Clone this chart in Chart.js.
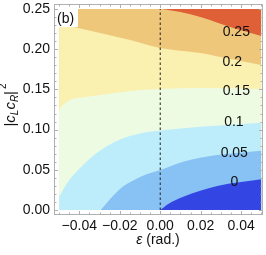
<!DOCTYPE html>
<html>
<head>
<meta charset="utf-8">
<script src="https://cdn.jsdelivr.net/npm/chart.js@4.4.0/dist/chart.umd.min.js"></script>
<style>
html,body{margin:0;padding:0;background:#fff;}
#wrap{width:266px;height:255px;}
</style>
</head>
<body>
<div id="wrap"><canvas id="myChart"></canvas></div>
<script>
// contour boundaries (epsilon, |cL cR|^2)
var lvl0X   = [0.0, 0.004, 0.0114, 0.0282, 0.05];
var lvl0Y   = [0.0, 0.0075, 0.0165, 0.0299, 0.0382];
var lvl05X  = [-0.0294, -0.0243, -0.0193, -0.0129, -0.0064, 0.0, 0.0114, 0.0282, 0.05];
var lvl05Y  = [0.0, 0.0149, 0.0274, 0.0373, 0.0448, 0.0498, 0.0601, 0.0684, 0.0738];
var lvl10X  = [-0.05, -0.046, -0.0391, -0.0327, -0.0262, -0.0193, -0.0129, -0.0064, 0.0, 0.0198, 0.05];
var lvl10Y  = [0.0162, 0.0336, 0.0535, 0.0684, 0.0796, 0.0883, 0.0933, 0.0970, 0.0989, 0.1036, 0.1086];
var lvl15X  = [-0.05, -0.0485, -0.0446, -0.0371, -0.0297, -0.0149, 0.0, 0.0198, 0.05];
var lvl15Y  = [0.1244, 0.1294, 0.1368, 0.1405, 0.1430, 0.1480, 0.1505, 0.1517, 0.1505];
var lvl20X  = [-0.05, -0.0406, -0.0297, -0.0149, 0.0, 0.0198, 0.0347, 0.05];
var lvl20Y  = [0.2313, 0.2264, 0.2201, 0.2114, 0.2015, 0.1953, 0.1878, 0.1803];
var lvl25X  = [0.001, 0.0099, 0.0198, 0.0361, 0.05];
var lvl25Y  = [0.25, 0.2463, 0.2400, 0.2264, 0.2164];
var topX    = [-0.05, 0.05];
var topY    = [0.25, 0.25];

// contour labels
var labelText = ['0.25', '0.2', '0.15', '0.1', '0.05', '0'];
var labelX    = [0.0376, 0.0356, 0.0376, 0.0364, 0.0366, 0.0366];
var labelY    = [0.221, 0.184, 0.148, 0.109, 0.071, 0.035];

// axis ticks
var xTicks = [-0.04, -0.02, 0.0, 0.02, 0.04];
var yTicks = [0.0, 0.05, 0.10, 0.15, 0.20, 0.25];

var FONT = "'Liberation Sans', Arial, sans-serif";

function pts(xs, ys) {
    return xs.map(function (x, i) { return {x: x, y: ys[i]}; });
}

function band(xs, ys, color, base) {
    return {
        data: pts(xs, ys),
        backgroundColor: color,
        borderColor: color,
        borderWidth: 0,
        pointRadius: 0,
        cubicInterpolationMode: 'monotone',
        fill: {value: base}
    };
}

function fmt(v) {
    return v.toFixed(2).replace('-', '\u2212');
}

function noPad(s) {
    s.paddingTop = 0; s.paddingBottom = 0; s.paddingLeft = 0; s.paddingRight = 0;
}

var decor = {
    id: 'decor',
    beforeDraw: function (chart) {
        var c = chart.ctx;
        c.save();
        c.fillStyle = '#fff';
        c.fillRect(0, 0, chart.width, chart.height);
        c.restore();
    },
    afterDatasetsDraw: function (chart) {
        var c = chart.ctx, xs = chart.scales.x, ys = chart.scales.y, a = chart.chartArea;
        c.save();
        c.fillStyle = '#111';
        c.font = '14px ' + FONT;
        c.textAlign = 'center';
        c.textBaseline = 'middle';
        for (var i = 0; i < labelText.length; i++) {
            c.fillText(labelText[i], xs.getPixelForValue(labelX[i]), ys.getPixelForValue(labelY[i]));
        }
        // (b) panel tag
        c.fillStyle = '#fff';
        c.fillRect(a.left + 1, a.top + 1, 23, 22);
        c.fillStyle = '#111';
        c.textAlign = 'left';
        c.textBaseline = 'alphabetic';
        c.fillText('(b)', a.left + 3, a.top + 19);
        c.restore();
    },
    afterDraw: function (chart) {
        var c = chart.ctx, xs = chart.scales.x, ys = chart.scales.y, a = chart.chartArea;
        c.save();
        c.strokeStyle = '#b0b0b0';
        c.lineWidth = 1;
        c.strokeRect(a.left + 0.5, a.top + 0.5, a.right - a.left - 1, a.bottom - a.top - 1);
        c.beginPath();
        var v, p, L;
        for (var k = -10; k <= 10; k++) {
            v = k * 0.005;
            p = Math.round(xs.getPixelForValue(v)) + 0.5;
            L = (k % 4 === 0) ? 4 : 2.5;
            c.moveTo(p, a.bottom); c.lineTo(p, a.bottom - L);
            c.moveTo(p, a.top); c.lineTo(p, a.top + L);
        }
        for (var j = 0; j <= 25; j++) {
            v = j * 0.01;
            p = Math.round(ys.getPixelForValue(v)) + 0.5;
            L = (j % 5 === 0) ? 4 : 2.5;
            c.moveTo(a.left, p); c.lineTo(a.left + L, p);
            c.moveTo(a.right, p); c.lineTo(a.right - L, p);
        }
        c.stroke();

        // x title
        c.fillStyle = '#111';
        c.textBaseline = 'alphabetic';
        c.textAlign = 'left';
        c.font = 'italic 14px ' + FONT;
        var w1 = c.measureText('\u03b5').width;
        c.font = '14px ' + FONT;
        var w2 = c.measureText(' (rad.)').width;
        var x0 = 158 - (w1 + w2) / 2;
        c.font = 'italic 14px ' + FONT;
        c.fillText('\u03b5', x0, 244);
        c.font = '14px ' + FONT;
        c.fillText(' (rad.)', x0 + w1, 244);

        // y title |c_L c_R|^2
        var parts = [
            {t: '|', f: '15px ' + FONT, dy: 0},
            {t: 'c', f: 'italic 15px ' + FONT, dy: 0},
            {t: 'L', f: 'italic 10px ' + FONT, dy: 3},
            {t: 'c', f: 'italic 15px ' + FONT, dy: 0},
            {t: 'R', f: 'italic 10px ' + FONT, dy: 3},
            {t: '|', f: '15px ' + FONT, dy: 0},
            {t: '2', f: '10px ' + FONT, dy: -9}
        ];
        var tot = 0;
        parts.forEach(function (q) { c.font = q.f; q.w = c.measureText(q.t).width + (q.t === '2' ? 2 : 0); tot += q.w; });
        c.translate(15, 105);
        c.rotate(-Math.PI / 2);
        var cx = -tot / 2;
        parts.forEach(function (q) {
            c.font = q.f;
            c.fillText(q.t, cx + (q.t === '2' ? 2 : 0), q.dy);
            cx += q.w;
        });
        c.restore();
    }
};

var ctx = document.getElementById('myChart').getContext('2d');
var chart = new Chart(ctx, {
    type: 'line',
    data: {
        datasets: [
            {
                data: [{x: 0, y: 0}, {x: 0, y: 0.25}],
                borderColor: '#222',
                borderWidth: 1,
                borderDash: [2.5, 2.5],
                pointRadius: 0,
                fill: false
            },
            band(lvl0X, lvl0Y, '#3346e4', 0),
            band(lvl05X, lvl05Y, '#88c1f3', 0),
            band(lvl10X, lvl10Y, '#bdedfa', 0),
            band(lvl15X, lvl15Y, '#eefbe3', 0),
            band(lvl20X, lvl20Y, '#faf0b0', 0),
            band(lvl25X, lvl25Y, '#df6037', 0.25),
            band(topX, topY, '#efc77b', 0)
        ]
    },
    options: {
        responsive: true,
        maintainAspectRatio: false,
        animation: false,
        events: [],
        layout: {padding: {top: 4, right: 3, left: 0, bottom: 0}},
        plugins: {legend: {display: false}, tooltip: {enabled: false}},
        scales: {
            x: {
                type: 'linear',
                min: -0.0525,
                max: 0.0508,
                afterFit: function (s) { s.height = 40; noPad(s); },
                afterBuildTicks: function (s) { s.ticks = xTicks.map(function (v) { return {value: v}; }); },
                grid: {display: false, drawTicks: false},
                border: {display: false},
                ticks: {
                    callback: function (v) { return fmt(v); },
                    font: {size: 14, family: FONT},
                    color: '#111',
                    padding: 3,
                    maxRotation: 0,
                    autoSkip: false
                }
            },
            y: {
                type: 'linear',
                min: -0.0062,
                max: 0.2562,
                afterFit: function (s) { s.width = 54; noPad(s); },
                afterBuildTicks: function (s) { s.ticks = yTicks.map(function (v) { return {value: v}; }); },
                grid: {display: false, drawTicks: false},
                border: {display: false},
                ticks: {
                    callback: function (v) { return fmt(v); },
                    font: {size: 14, family: FONT},
                    color: '#111',
                    padding: 4,
                    autoSkip: false
                }
            }
        }
    },
    plugins: [decor]
});
</script>
</body>
</html>
